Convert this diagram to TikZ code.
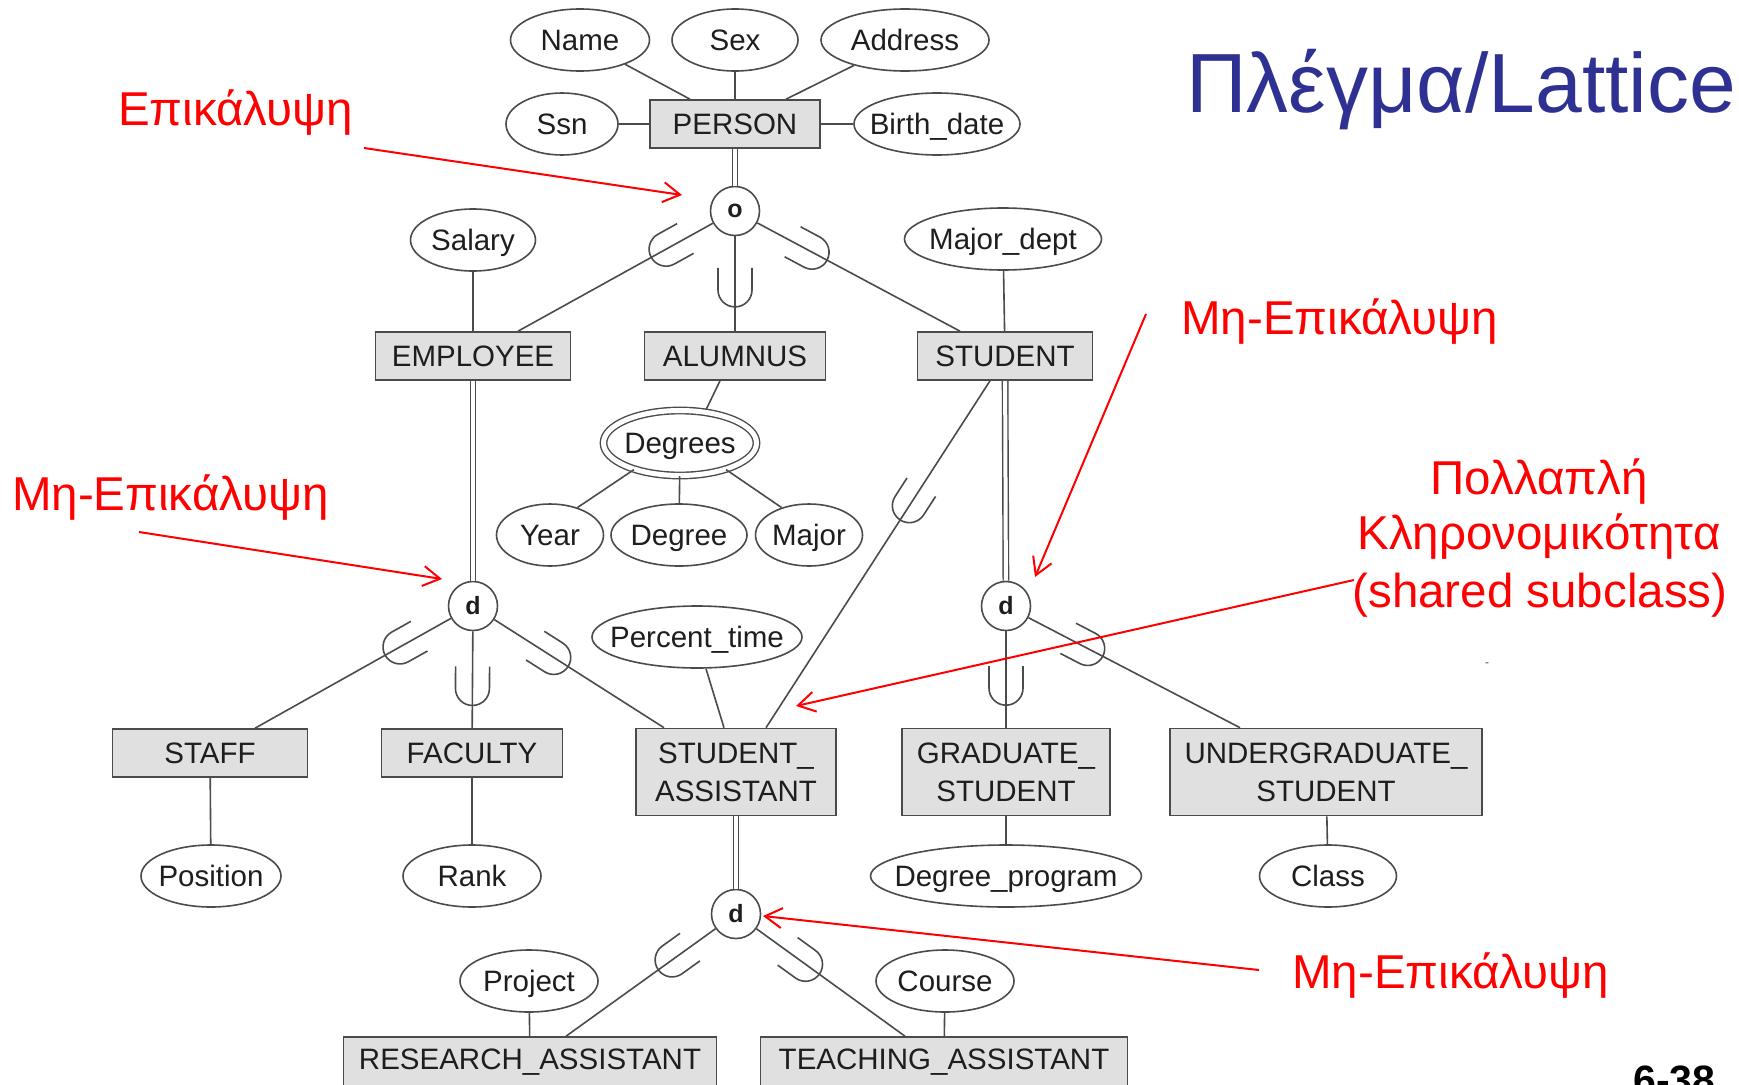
\documentclass[tikz,border=0pt]{standalone}
\usepackage{fontspec}
\setmainfont{Liberation Sans}
\usetikzlibrary{shapes.geometric,arrows.meta,calc}
\definecolor{boxgray}{RGB}{224,224,224}
\definecolor{linegray}{RGB}{75,75,75}
\definecolor{inkblack}{RGB}{30,30,30}
\definecolor{titleblue}{RGB}{46,49,146}
\newcommand\erfont{\fontsize{29.5}{38}\selectfont}
\newcommand\notefont{\fontsize{47.5}{56}\selectfont}
\tikzset{subset mark/.pic={\draw[linegray,line width=1.6pt](-22,17)--(0,17)arc(90:-90:17)--(-22,-17);}}

\begin{document}
\begin{tikzpicture}
[x=1pt,y=-1pt]
\tikzstyle{entity node}=[rectangle,draw=linegray,fill=boxgray,line width=1.6pt,minimum height=48,inner sep=0,text=inkblack,font=\erfont,align=center]
\tikzstyle{attr node}=[ellipse,draw=linegray,line width=1.6pt,inner xsep=-40pt,inner ysep=-12pt,minimum height=62,text height=21pt,text depth=0pt,text=inkblack,font=\erfont]
\tikzstyle{multi attr}=[attr node,double,double distance=5pt,line width=1.4pt]
\tikzstyle{spec node}=[circle,draw=linegray,fill=white,line width=1.6pt,minimum size=49,inner sep=0,text=inkblack,font=\fontsize{25}{25}\selectfont\bfseries]
\tikzstyle{isa link}=[draw=linegray,line width=1.6pt]
\tikzstyle{total link}=[isa link,double,double distance=4pt,line width=1.4pt]
\tikzstyle{subset}=[sloped,allow upside down]
\tikzstyle{red note}=[text=red,font=\notefont,inner sep=0,anchor=base west]
\tikzstyle{red arrow}=[red,line width=2pt,-{Straight Barb[length=17pt,width=20pt]}]

\useasboundingbox(0,0)rectangle(1739,1084);
\clip(0,0)rectangle(1739,1084);

\node(person)[entity node,minimum width=170]at(735,124){PERSON};
\node(name)[attr node,minimum width=139]at(580,40){Name};
\node(sex)[attr node,minimum width=126]at(735,40){Sex};
\node(address)[attr node,minimum width=168]at(905,40){Address};
\node(ssn)[attr node,minimum width=112]at(562,124){Ssn};
\node(birth)[attr node,minimum width=166]at(937,124){Birth\_date};
\node(o)[spec node]at(735,211){o};
\node(salary)[attr node,minimum width=125]at(473,240){Salary};
\node(major dept)[attr node,minimum width=197]at(1003,239){Major\_dept};
\node(employee)[entity node,minimum width=195]at(473,356){EMPLOYEE};
\node(alumnus)[entity node,minimum width=181]at(735,356){ALUMNUS};
\node(student)[entity node,minimum width=175]at(1005,356){STUDENT};
\node(degrees)[multi attr,minimum width=153,minimum height=65]at(680,443){Degrees};
\node(year)[attr node,minimum width=107]at(550,535){Year};
\node(degree)[attr node,minimum width=136]at(679,535){Degree};
\node(major)[attr node,minimum width=107]at(809,535){Major};
\node(d1)[spec node]at(473,606){d};
\node(d2)[spec node]at(1006,606){d};
\node(percent)[attr node,minimum width=210]at(697,637){Percent\_time};
\node(staff)[entity node,minimum width=195]at(210,753){STAFF};
\node(faculty)[entity node,minimum width=181]at(472,753){FACULTY};
\node(sa)[entity node,minimum width=200,minimum height=87]at(736,772){STUDENT\_\\ASSISTANT};
\node(grad)[entity node,minimum width=208,minimum height=87]at(1006,772){GRADUATE\_\\STUDENT};
\node(ug)[entity node,minimum width=312,minimum height=87]at(1326,772){UNDERGRADUATE\_\\STUDENT};
\node(position)[attr node,minimum width=140]at(211,876){Position};
\node(rank)[attr node,minimum width=138]at(472,876){Rank};
\node(program)[attr node,minimum width=271]at(1006,876){Degree\_program};
\node(class)[attr node,minimum width=137]at(1328,876){Class};
\node(d3)[spec node]at(736,914){d};
\node(project)[attr node,minimum width=138]at(529,981){Project};
\node(course)[attr node,minimum width=138]at(945,981){Course};
\node(ra)[entity node,minimum width=373,minimum height=50]at(530,1062){RESEARCH\_ASSISTANT};
\node(ta)[entity node,minimum width=367,minimum height=50]at(944,1062){TEACHING\_ASSISTANT};

\draw[isa link](name)--($(person.north)+(-45,0)$);
\draw[isa link](sex)--(person);
\draw[isa link](address)--($(person.north)+(51,0)$);
\draw[isa link](ssn)--(person);
\draw[isa link](birth)--(person);
\draw[total link](person)--(o);
\draw[isa link](o)--($(employee.north)+(45,0)$)pic[subset,pos=.24]{subset mark};
\draw[isa link](o)--(alumnus)pic[subset,pos=.565]{subset mark};
\draw[isa link](o)--($(student.north)+(-45,0)$)pic[subset,pos=.27]{subset mark};
\draw[isa link](salary)--(employee);
\draw[isa link](major dept)--(student);
\draw[isa link]($(alumnus.south)+(-15,0)$)--($(degrees.north)+(26,0)$);
\draw[isa link](degrees.210)--(year.45);
\draw[isa link](degrees)--(degree);
\draw[isa link](degrees.330)--(major.135);
\draw[total link](employee)--(d1);
\draw[isa link](d1)--($(staff.north)+(45,0)$)pic[subset,pos=.26]{subset mark};
\draw[isa link](d1)--(faculty)pic[subset,pos=.59]{subset mark};
\draw[isa link](d1)--($(sa.north)+(-72,0)$)pic[subset,pos=.35]{subset mark};
\draw[total link](student)--(d2);
\draw[isa link](d2)--(grad)pic[subset,pos=.59]{subset mark};
\draw[isa link](d2)--($(ug.north)+(-86,0)$)pic[subset,pos=.28]{subset mark};
\draw[isa link]($(student.south)+(-15,0)$)--($(sa.north)+(30,0)$)pic[subset,pos=.36]{subset mark};
\draw[isa link]($(percent.south)+(9,0)$)--($(sa.north)+(-12,0)$);
\draw[isa link](staff)--(position);
\draw[isa link](faculty)--(rank);
\draw[isa link](grad)--(program);
\draw[isa link](ug)--(class);
\draw[total link](sa)--(d3);
\draw[isa link](d3)--($(ra.north)+(36,0)$)pic[subset,pos=.29]{subset mark};
\draw[isa link](d3)--($(ta.north)+(-39,0)$)pic[subset,pos=.33]{subset mark};
\draw[isa link](project)--(ra);
\draw[isa link](course)--(ta);

\node(title)[anchor=base west,inner sep=0,text=titleblue,font=\fontsize{84}{90}\selectfont]at(1186,112){Πλέγμα/Lattice};
\node(overlap note)[red note]at(118,125){Επικάλυψη};
\node(disjoint note a)[red note]at(12,510){Μη-Επικάλυψη};
\node(disjoint note b)[red note]at(1181,334){Μη-Επικάλυψη};
\node(disjoint note c)[red note]at(1292,988){Μη-Επικάλυψη};
\node(shared note a)[red note,anchor=base]at(1539,494){Πολλαπλή};
\node(shared note b)[red note,anchor=base]at(1539,549){Κληρονομικότητα};
\node(shared note c)[red note,anchor=base]at(1540,607){(shared subclass)};
\node(page)[anchor=base west,inner sep=0,font=\fontsize{41}{41}\selectfont\bfseries]at(1633,1094){6-38};
\node(dash)[text=linegray,inner sep=0,font=\fontsize{12}{12}\selectfont]at(1487,665){-};

\coordinate(overlap tail)at(364,148);
\coordinate(overlap head)at(682,195);
\coordinate(disjoint tail a)at(139,532);
\coordinate(disjoint head a)at(442,579);
\coordinate(disjoint tail b)at(1146,314);
\coordinate(disjoint head b)at(1035,577);
\coordinate(disjoint tail c)at(1259,970);
\coordinate(disjoint head c)at(763,916);
\coordinate(shared tail)at(1354,580);
\coordinate(shared head)at(796,706);
\draw[red arrow](overlap tail)--(overlap head);
\draw[red arrow](disjoint tail a)--(disjoint head a);
\draw[red arrow](disjoint tail b)--(disjoint head b);
\draw[red arrow](disjoint tail c)--(disjoint head c);
\draw[red arrow](shared tail)--(shared head);
\end{tikzpicture}
\end{document}
